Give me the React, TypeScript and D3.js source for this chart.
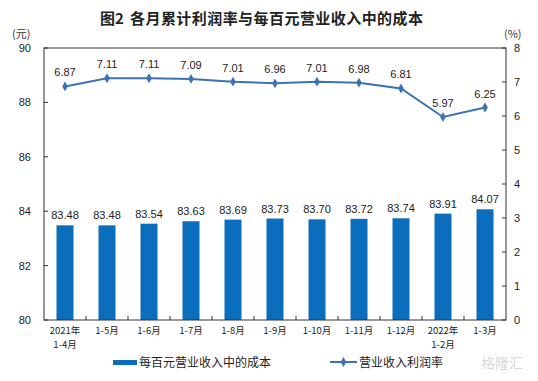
import React from "react";
import * as d3 from "d3";

const categories = ["2021年\n1-4月", "1-5月", "1-6月", "1-7月", "1-8月", "1-9月", "1-10月", "1-11月", "1-12月", "2022年\n1-2月", "1-3月"];
const costValues = [83.48, 83.48, 83.54, 83.63, 83.69, 83.73, 83.70, 83.72, 83.74, 83.91, 84.07];
const profitRate = [6.87, 7.11, 7.11, 7.09, 7.01, 6.96, 7.01, 6.98, 6.81, 5.97, 6.25];
const leftTicks = [80, 82, 84, 86, 88, 90];
const rightTicks = [0, 1, 2, 3, 4, 5, 6, 7, 8];

const W = 538, H = 381;
const M = { left: 44, right: 506, top: 48, bottom: 320 };
const BAR = "#0a6ebd";
const LINE = "#3d72b4";
const FONT = "'Liberation Sans', Arial, 'Noto Sans CJK SC', sans-serif";
const CJK = "'Noto Sans CJK SC', sans-serif";

export default function App() {
  const x = d3.scaleBand<string>().domain(categories).range([M.left, M.right]);
  const yL = d3.scaleLinear().domain([80, 90]).range([M.bottom, M.top]);
  const yR = d3.scaleLinear().domain([0, 8]).range([M.bottom, M.top]);
  const bw = 17;
  const cx = (c: string) => (x(c) ?? 0) + x.bandwidth() / 2;
  const line = d3.line<number>().x((_, i) => cx(categories[i])).y((d) => yR(d));
  const diamond = d3.symbol().type(d3.symbolDiamond).size(28)() as string;

  return (
    <svg width={W} height={H} style={{ display: "block", position: "absolute", left: 0, top: 0, background: "#fff" }}>
      <rect x={0} y={0} width={W} height={H} fill="#fff" />
      <text x={100} y={24} fontFamily={CJK} fontSize={15} fontWeight="bold" fill="#222">图2</text>
      <text x={130} y={24} fontFamily={CJK} fontSize={15} fontWeight="bold" fill="#222" textLength={293} lengthAdjust="spacing">各月累计利润率与每百元营业收入中的成本</text>
      <text x={12} y={38} fontFamily={CJK} fontSize={11} fill="#333">(元)</text>
      <text x={504} y={38} fontFamily={CJK} fontSize={11} fill="#333">(%)</text>

      {/* bars */}
      {categories.map((c, i) => (
        <rect key={c} x={cx(c) - bw / 2} y={yL(costValues[i])} width={bw} height={M.bottom - yL(costValues[i])} fill={BAR} />
      ))}
      {categories.map((c, i) => (
        <text key={"bl" + c} x={cx(c)} y={yL(costValues[i]) - 6} textAnchor="middle" fontFamily={FONT} fontSize={11} fill="#222">{costValues[i].toFixed(2)}</text>
      ))}

      {/* frame */}
      <rect x={M.left} y={M.top} width={M.right - M.left} height={M.bottom - M.top} fill="none" stroke="#333" strokeWidth={1} />

      {/* left axis */}
      {leftTicks.map((t) => (
        <g key={"l" + t}>
          <line x1={M.left} x2={M.left + 4} y1={yL(t)} y2={yL(t)} stroke="#333" />
          <text x={M.left - 13} y={yL(t) + 4} textAnchor="end" fontFamily={FONT} fontSize={11} fill="#222">{t}</text>
        </g>
      ))}
      {/* right axis */}
      {rightTicks.map((t) => (
        <g key={"r" + t}>
          <line x1={M.right - 4} x2={M.right} y1={yR(t)} y2={yR(t)} stroke="#333" />
          <text x={M.right + 8} y={yR(t) + 4} textAnchor="start" fontFamily={FONT} fontSize={11} fill="#222">{t}</text>
        </g>
      ))}
      {/* x ticks */}
      {categories.slice(1).map((c) => (
        <line key={"xt" + c} x1={x(c) ?? 0} x2={x(c) ?? 0} y1={M.bottom} y2={M.bottom - 4} stroke="#333" />
      ))}
      {categories.map((c) =>
        c.split("\n").map((s, j) => (
          <text key={"xl" + c + j} x={cx(c)} y={M.bottom + 14 + j * 14} textAnchor="middle" fontFamily={CJK} fontSize={9.5} fill="#222">{s}</text>
        ))
      )}

      {/* line */}
      <path d={line(profitRate) ?? ""} fill="none" stroke={LINE} strokeWidth={2} />
      {profitRate.map((v, i) => (
        <path key={"m" + i} d={diamond} transform={`translate(${cx(categories[i])},${yR(v)})`} fill={LINE} />
      ))}
      {profitRate.map((v, i) => (
        <text key={"ml" + i} x={cx(categories[i])} y={yR(v) - 10} textAnchor="middle" fontFamily={FONT} fontSize={11} fill="#222">{v.toFixed(2)}</text>
      ))}

      {/* legend */}
      <rect x={113} y={360} width={24} height={5} fill={BAR} />
      <text x={139} y={367} fontFamily={CJK} fontSize={12} fill="#222">每百元营业收入中的成本</text>
      <line x1={330} x2={357} y1={362} y2={362} stroke={LINE} strokeWidth={2} />
      <path d={diamond} transform="translate(343.5,362)" fill={LINE} />
      <text x={359} y={367} fontFamily={CJK} fontSize={12} fill="#222">营业收入利润率</text>
      <text x={502} y={368} textAnchor="middle" fontFamily={CJK} fontSize={14} fill="#d8d8d8">格隆汇</text>
    </svg>
  );
}
